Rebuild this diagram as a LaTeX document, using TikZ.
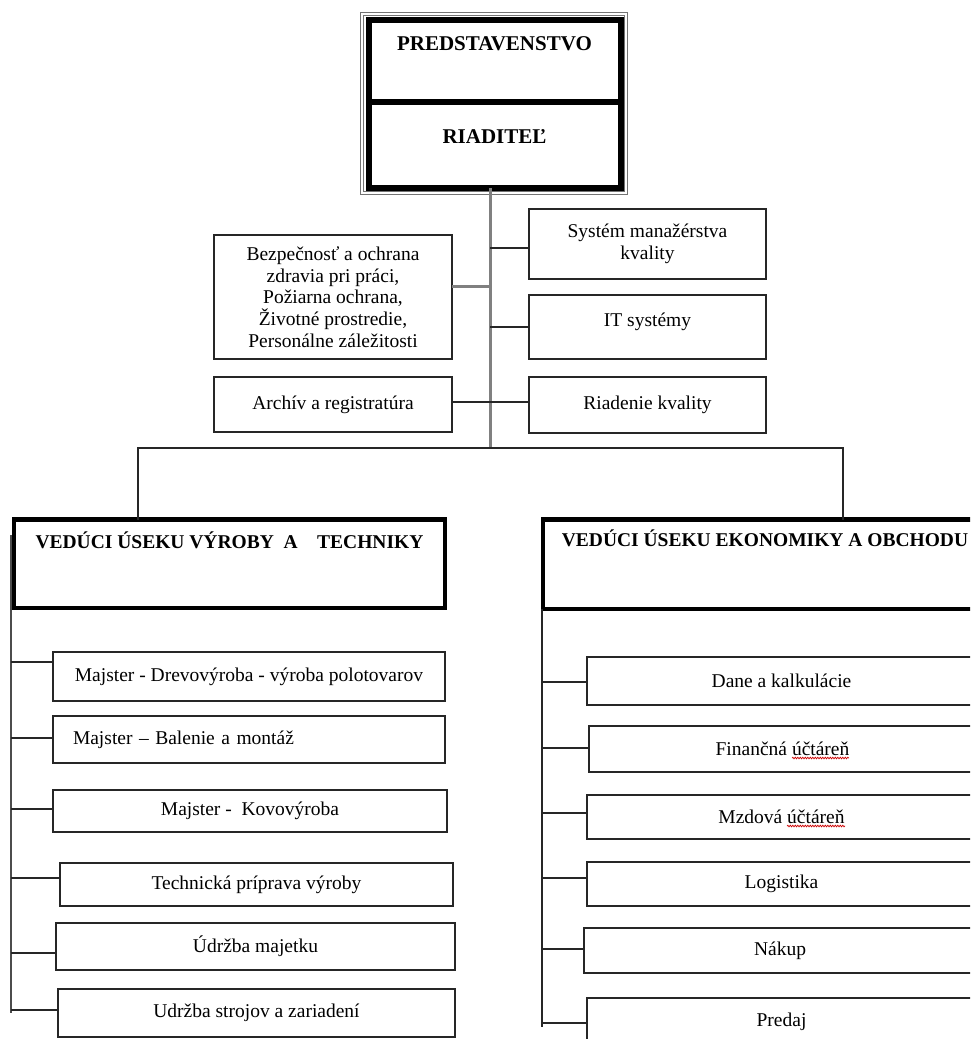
\documentclass[tikz,border=0pt]{standalone}
\usepackage{fontspec}
\setmainfont{Liberation Serif}
\usetikzlibrary{decorations.pathmorphing}
\tikzset{
  box/.style={draw=black!85, line width=1.8pt, inner sep=0pt, outer sep=0pt, align=center,
    font=\fontsize{19.5}{21.7}\selectfont},
  topbox/.style={draw=black, line width=6pt, inner sep=0pt, outer sep=0pt,
    font=\bfseries\fontsize{21}{24}\selectfont},
  deptbox/.style={draw=black, line width=4.5pt, inner sep=0pt, outer sep=0pt,
    font=\bfseries\fontsize{19.5}{22}\selectfont},
  link/.style={draw=black!85, line width=1.8pt},
  trunkline/.style={draw=black!50, line width=3pt},
  spellmark/.style={draw=red!80!black, line width=0.7pt, decorate,
    decoration={snake, amplitude=0.8pt, segment length=2.5pt}}
}
\begin{document}
\begin{tikzpicture}[x=1pt,y=-1pt]
\clip (0,0) rectangle (970,1039);
\fill[white] (0,0) rectangle (970,1039);

% ---- top box (double outer frame) ----
\draw[black!55, line width=0.8pt] (360.5,12.5) rectangle (627.5,194);
\draw[black!55, line width=0.8pt] (363.5,15.5) rectangle (624.5,191.5);
\node[topbox, minimum width=252pt, text height=30.5pt, text depth=52pt] (pred) at (494.5,60.75) {PREDSTAVENSTVO};
\node[topbox, minimum width=252pt, text height=41.5pt, text depth=44.5pt] (riad) at (494.5,145) {RIADITEĽ};

% ---- staff boxes ----
\node[box, minimum width=238pt, minimum height=124pt] (bez) at (333,297)
  {Bezpečnosť a ochrana\\zdravia pri práci,\\Požiarna ochrana,\\Životné prostredie,\\Personálne záležitosti};
\node[box, minimum width=238pt, minimum height=55pt] (arch) at (333,404.5) {Archív a registratúra};
\node[box, minimum width=237pt, minimum height=70pt] (sys) at (647.5,244) {Systém manažérstva\\kvality};
\node[box, minimum width=237pt, minimum height=64pt, text height=11pt, text depth=12pt] (it) at (647.5,327) {IT systémy};
\node[box, minimum width=237pt, minimum height=56pt] (rk) at (647.5,405) {Riadenie kvality};

% ---- trunk and bus ----
\coordinate (trunk) at (490,448);
\coordinate (busL) at (138,448);
\coordinate (busR) at (843,448);
\draw[trunkline] (riad.south -| trunk) -- (trunk);
\draw[trunkline] (bez.east |- 0,286) -- (trunk |- 0,286);
\draw[link] (trunk |- 0,248) -- (sys.west |- 0,248);
\draw[link] (trunk |- 0,327) -- (it.west);
\draw[link] (arch.east |- 0,402) -- (rk.west |- 0,402);

% ---- department boxes ----
\node[deptbox, minimum width=431pt, text height=28.5pt, text depth=60pt] (dl) at (229.5,563.75)
  {VEDÚCI ÚSEKU VÝROBY\ \ A\ \ \ \ TECHNIKY};
\node[deptbox, minimum width=444pt, text height=26.5pt, text depth=63pt] (dr) at (765,564.25)
  {VEDÚCI ÚSEKU EKONOMIKY A OBCHODU};
\draw[link] (dl.north -| busL) -- (busL) -- (busR) -- (busR |- dr.north);

% ---- production column ----
\node[box, minimum width=392pt, minimum height=49pt] (l1) at (249,676.5) {Majster - Drevovýroba - výroba polotovarov};
\node[box, minimum height=47pt, text width=352pt, inner xsep=20pt, align=left] (l2) at (249,739.5) {Majster – Balenie a montáž};
\node[box, minimum width=394pt, minimum height=42pt] (l3) at (250,811) {Majster -\ \ Kovovýroba};
\node[box, minimum width=393pt, minimum height=43pt] (l4) at (256.5,884.5) {Technická príprava výroby};
\node[box, minimum width=399pt, minimum height=47pt] (l5) at (255.5,946.5) {Údržba majetku};
\node[box, minimum width=397pt, minimum height=48pt] (l6) at (256.5,1013) {Udržba strojov a zariadení};

\coordinate (lvtop) at (11,535);
\coordinate (lvbot) at (11,1013);
\draw[draw=black!70, line width=2.4pt] (lvtop) -- (lvbot);
\draw[link] (lvtop |- 0,662) -- (l1.west |- 0,662);
\draw[link] (lvtop |- 0,738) -- (l2.west |- 0,738);
\draw[link] (lvtop |- 0,809) -- (l3.west |- 0,809);
\draw[link] (lvtop |- 0,878) -- (l4.west |- 0,878);
\draw[link] (lvtop |- 0,953) -- (l5.west |- 0,953);
\draw[link] (lvtop |- 0,1010) -- (l6.west |- 0,1010);

% ---- economy column ----
\node[box, minimum width=389pt, minimum height=48pt] (r1) at (781.5,681) {Dane a kalkulácie};
\node[box, minimum width=387pt, minimum height=46pt] (r2) at (782.5,749) {Finančná účtáreň};
\node[box, minimum width=389pt, minimum height=44pt] (r3) at (781.5,817) {Mzdová účtáreň};
\node[box, minimum width=389pt, minimum height=44pt] (r4) at (781.5,884) {Logistika};
\node[box, minimum width=392pt, minimum height=45pt] (r5) at (780,950.5) {Nákup};
\node[box, minimum width=389pt, minimum height=47pt] (r6) at (781.5,1021.5) {Predaj};

\coordinate (rvtop) at (542,609);
\coordinate (rvbot) at (542,1027);
\draw[link] (rvtop) -- (rvbot);
\draw[link] (rvtop |- 0,682) -- (r1.west |- 0,682);
\draw[link] (rvtop |- 0,748) -- (r2.west |- 0,748);
\draw[link] (rvtop |- 0,813) -- (r3.west |- 0,813);
\draw[link] (rvtop |- 0,878) -- (r4.west |- 0,878);
\draw[link] (rvtop |- 0,949) -- (r5.west |- 0,949);
\draw[link] (rvtop |- 0,1023) -- (r6.west |- 0,1023);

% spell-check marks under "účtáreň"
\draw[spellmark] (792,758) -- (849,758);
\draw[spellmark] (787,826) -- (845,826);
\end{tikzpicture}
\end{document}
